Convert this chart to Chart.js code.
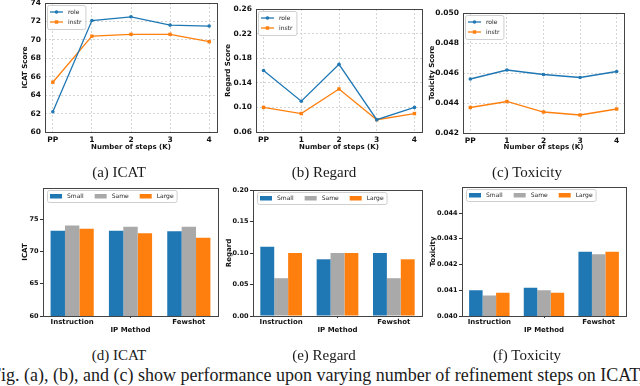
<!DOCTYPE html>
<html>
<head>
<meta charset="utf-8">
<script src="https://cdn.jsdelivr.net/npm/chart.js@4.4.1/dist/chart.umd.min.js"></script>
<style>
  body { margin: 0; background: #fff; width: 640px; height: 386px; overflow: hidden; position: relative; }
  canvas { position: absolute; }
  .cap { position: absolute; font-family: "Liberation Serif", serif; font-size: 15px; line-height: 15px;
         color: #1a1a1a; white-space: nowrap; transform: translateX(-50%); }
  .note { position: absolute; left: -9px; top: 366px; font-family: "Liberation Serif", serif; font-size: 18px;
          line-height: 18px; color: #1a1a1a; white-space: nowrap; }
</style>
</head>
<body>
<canvas id="icatLine"></canvas>
<canvas id="regardLine"></canvas>
<canvas id="toxLine"></canvas>
<canvas id="icatBar"></canvas>
<canvas id="regardBar"></canvas>
<canvas id="toxBar"></canvas>

<div class="cap" style="left:119px;top:165px">(a) ICAT</div>
<div class="cap" style="left:324px;top:165px">(b) Regard</div>
<div class="cap" style="left:527px;top:165px">(c) Toxicity</div>
<div class="cap" style="left:119px;top:348px">(d) ICAT</div>
<div class="cap" style="left:324px;top:348px">(e) Regard</div>
<div class="cap" style="left:527px;top:348px">(f) Toxicity</div>
<div class="note">Fig. (a), (b), and (c) show performance upon varying number of refinement steps on ICAT,</div>

<script>
// refinement steps (top row)
const steps = ['PP', '1', '2', '3', '4'];
const icatRole = [62.2, 72.1, 72.5, 71.6, 71.5];
const icatInstr = [65.4, 70.4, 70.6, 70.6, 69.8];
const regardRole = [0.16, 0.11, 0.17, 0.08, 0.10];
const regardInstr = [0.10, 0.09, 0.13, 0.08, 0.09];
const toxRole = [0.0456, 0.0462, 0.0459, 0.0457, 0.0461];
const toxInstr = [0.0437, 0.0441, 0.0434, 0.0432, 0.0436];

// IP methods (bottom row)
const methods = ['Instruction', 'Zero-Shot CoT', 'Fewshot'];
const icatSmall = [73.2, 73.2, 73.1];
const icatSame = [74.0, 73.8, 73.8];
const icatLarge = [73.5, 72.8, 72.1];
const regardSmall = [0.11, 0.09, 0.10];
const regardSame = [0.06, 0.10, 0.06];
const regardLarge = [0.10, 0.10, 0.09];
const toxSmall = [0.0410, 0.0411, 0.0425];
const toxSame = [0.0408, 0.0410, 0.0424];
const toxLarge = [0.0409, 0.0409, 0.0425];

// tick labels
const icatLineTicks = [60, 62, 64, 66, 68, 70, 72, 74];
const regardLineTicks = [0.06, 0.10, 0.14, 0.18, 0.22, 0.26];
const toxLineTicks = [0.042, 0.044, 0.046, 0.048, 0.050];
const icatBarTicks = [60, 65, 70, 75];
const regardBarTicks = [0.00, 0.05, 0.10, 0.15, 0.20];
const toxBarTicks = [0.040, 0.041, 0.042, 0.043, 0.044];

Chart.defaults.font.family = '"DejaVu Sans", sans-serif';
Chart.defaults.color = '#111';
Chart.defaults.animation = false;

const blue = '#1f77b4', orange = '#ff7f0e', grey = '#a9a9a9';
const YW = 36, PT = 10, PR = 12, XH = 26;

// frame round the plot area plus a matplotlib-like legend inside it
const boxLegend = {
    id: 'boxLegend',
    afterDraw(chart, args, o) {
        const {ctx, chartArea: a} = chart;
        const sets = chart.data.datasets;
        ctx.save();
        ctx.strokeStyle = '#444';
        ctx.lineWidth = 1;
        ctx.strokeRect(Math.round(a.left) + 0.5, Math.round(a.top) + 0.5,
            Math.round(a.right) - Math.round(a.left), Math.round(a.bottom) - Math.round(a.top));

        ctx.font = '6px "DejaVu Sans", sans-serif';
        ctx.textBaseline = 'middle';
        const widths = sets.map(d => ctx.measureText(d.label).width);
        let x0, y0, w, h;
        if (o.row) {
            x0 = Math.round(a.left) + 4; y0 = Math.round(a.top) + 2; h = 12;
            w = 3 + widths.reduce((s, t) => s + 17 + t + 11, 0) - 11 + 3;
        } else {
            x0 = Math.round(a.left) + 2; y0 = Math.round(a.top) + 2; h = 4 + 10 * sets.length;
            w = 21 + Math.max(...widths) + 4;
        }
        ctx.fillStyle = 'rgba(255,255,255,0.85)';
        ctx.strokeStyle = '#cfcfcf';
        ctx.beginPath();
        ctx.roundRect(x0 + 0.5, y0 + 0.5, w, h, 2);
        ctx.fill();
        ctx.stroke();

        let x = x0 + 3;
        sets.forEach((d, i) => {
            if (o.row) {
                ctx.fillStyle = d.backgroundColor;
                ctx.fillRect(x, y0 + 4, 12, 4.5);
                ctx.fillStyle = '#222';
                ctx.fillText(d.label, x + 17, y0 + h / 2 + 0.5);
                x += 17 + widths[i] + 11;
            } else {
                const y = y0 + 7 + 10 * i;
                ctx.strokeStyle = d.borderColor;
                ctx.lineWidth = 1.3;
                ctx.beginPath();
                ctx.moveTo(x0 + 3, y);
                ctx.lineTo(x0 + 16, y);
                ctx.stroke();
                ctx.fillStyle = d.borderColor;
                Chart.helpers.drawPoint(ctx, {pointStyle: d.pointStyle, radius: d.pointRadius, borderWidth: 0}, x0 + 9.5, y);
                ctx.fillStyle = '#222';
                ctx.fillText(d.label, x0 + 21, y + 0.5);
            }
        });
        ctx.restore();
    }
};

function place(id, box, yTitleX, xTitleY) {
    const c = document.getElementById(id);
    const L = box[0] - YW, T = box[1] - PT;
    c.width = box[2] - L + PR;
    c.height = box[3] - T + XH;
    c.style.left = L + 'px';
    c.style.top = T + 'px';
    return {c, yPad: yTitleX - L - 4.2, xPad: box[3] + XH - 4.2 - xTitleY};
}

function lineChart(id, box, yTitleX, yTitle, role, instr, ticks, digits) {
    const p = place(id, box, yTitleX, 146.7);
    const pts = arr => arr.map((v, i) => ({x: i, y: v}));
    return new Chart(p.c, {
        type: 'line',
        data: {
            datasets: [
                {label: 'role', data: pts(role), borderColor: blue, backgroundColor: blue,
                 borderWidth: 1.3, pointStyle: 'circle', pointRadius: 1.8, pointBorderWidth: 0},
                {label: 'instr', data: pts(instr), borderColor: orange, backgroundColor: orange,
                 borderWidth: 1.3, pointStyle: 'rect', pointRadius: 2.4, pointBorderWidth: 0}
            ]
        },
        options: {
            responsive: false,
            devicePixelRatio: 1,
            layout: {padding: {left: 0, top: PT, right: PR, bottom: 0}},
            scales: {
                x: {
                    type: 'linear', min: -0.2, max: 4.2,
                    afterBuildTicks: s => { s.ticks = steps.map((_, i) => ({value: i})); },
                    afterFit: s => { s.height = XH; },
                    grid: {color: '#d4d4d4', drawTicks: false},
                    border: {display: false, dash: [2, 2]},
                    ticks: {padding: 3.5, maxRotation: 0, font: {size: 7.5, weight: 'bold'},
                            callback: (v, i) => steps[i]},
                    title: {display: true, text: 'Number of steps (K)', font: {size: 7, weight: 'bold'},
                            padding: {top: 0, bottom: p.xPad}}
                },
                y: {
                    min: ticks[0], max: ticks[ticks.length - 1],
                    afterBuildTicks: s => { s.ticks = ticks.map(v => ({value: v})); },
                    afterFit: s => { s.width = YW; },
                    grid: {color: '#d4d4d4', drawTicks: false},
                    border: {display: false, dash: [2, 2]},
                    ticks: {padding: 4, font: {size: 7.5, weight: 'bold'},
                            callback: v => v.toFixed(digits)},
                    title: {display: true, text: yTitle, font: {size: 7, weight: 'bold'},
                            padding: {top: p.yPad, bottom: 0}}
                }
            },
            plugins: {legend: {display: false}, tooltip: {enabled: false}, boxLegend: {row: false}}
        },
        plugins: [boxLegend]
    });
}

function barChart(id, box, yTitleX, yTitle, small, same, large, ticks, max, digits) {
    const p = place(id, box, yTitleX, 330);
    const set = (label, data, color) => ({label, data, backgroundColor: color, borderWidth: 0,
                                          categoryPercentage: 0.74, barPercentage: 1});
    return new Chart(p.c, {
        type: 'bar',
        data: {
            labels: methods,
            datasets: [set('Small', small, blue), set('Same', same, grey), set('Large', large, orange)]
        },
        options: {
            responsive: false,
            devicePixelRatio: 1,
            layout: {padding: {left: 0, top: PT, right: PR, bottom: 0}},
            scales: {
                x: {
                    afterFit: s => { s.height = XH; },
                    grid: {drawOnChartArea: false, tickLength: 2, color: '#333'},
                    border: {display: false},
                    ticks: {padding: 0, maxRotation: 0, font: {size: 7, weight: 'bold'}},
                    title: {display: true, text: 'IP Method', font: {size: 7, weight: 'bold'},
                            padding: {top: 0, bottom: p.xPad}}
                },
                y: {
                    min: ticks[0], max: max,
                    afterBuildTicks: s => { s.ticks = ticks.map(v => ({value: v})); },
                    afterFit: s => { s.width = YW; },
                    grid: {drawOnChartArea: false, tickLength: 3, color: '#333'},
                    border: {display: false},
                    ticks: {padding: 1.5, font: {size: 6.5, weight: 'bold'},
                            callback: v => v.toFixed(digits)},
                    title: {display: true, text: yTitle, font: {size: 7, weight: 'bold'},
                            padding: {top: p.yPad, bottom: 0}}
                }
            },
            plugins: {legend: {display: false}, tooltip: {enabled: false}, boxLegend: {row: true}}
        },
        plugins: [boxLegend]
    });
}

lineChart('icatLine', [45, 3, 217, 132], 25, 'ICAT Score', icatRole, icatInstr, icatLineTicks, 0);
lineChart('regardLine', [256, 9, 422, 132], 228, 'Regard Score', regardRole, regardInstr, regardLineTicks, 2);
lineChart('toxLine', [463, 13, 624, 133], 431.7, 'Toxicity Score', toxRole, toxInstr, toxLineTicks, 3);

barChart('icatBar', [43, 188, 218, 316], 25, 'ICAT', icatSmall, icatSame, icatLarge, icatBarTicks, 79.8, 0);
barChart('regardBar', [253, 190, 422, 316], 229, 'Regard', regardSmall, regardSame, regardLarge, regardBarTicks, 0.2, 2);
barChart('toxBar', [462, 187, 626, 316], 432.7, 'Toxicity', toxSmall, toxSame, toxLarge, toxBarTicks, 0.04501, 3);
</script>
</body>
</html>
